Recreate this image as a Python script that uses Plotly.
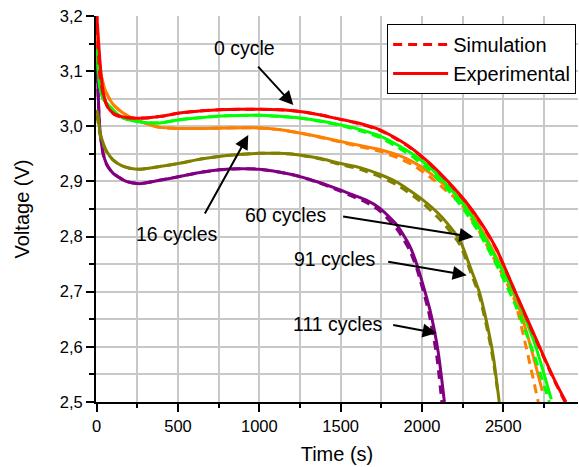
import plotly.graph_objects as go

# Discharge curves: time (s) vs voltage (V) after different numbers of cycles
t_c0_exp = [0, 10, 25, 40, 60, 80, 110, 160, 220, 300, 400, 510, 650, 755, 880, 1000, 1120, 1247,
            1370, 1493, 1620, 1738, 1830, 1923, 2040, 2150, 2273, 2370, 2457, 2588, 2660, 2750, 2820, 2885]
v_c0_exp = [3.205, 3.16, 3.10, 3.062, 3.040, 3.030, 3.022, 3.017, 3.015, 3.015, 3.018, 3.024, 3.028, 3.030,
            3.031, 3.031, 3.030, 3.027, 3.021, 3.013, 3.005, 2.994, 2.980, 2.963, 2.935, 2.903, 2.862,
            2.822, 2.778, 2.690, 2.642, 2.582, 2.537, 2.500]
t_c0_sim = [0, 8, 20, 40, 60, 80, 110, 160, 220, 300, 400, 510, 650, 755, 880, 1000, 1120, 1247,
            1370, 1493, 1620, 1738, 1830, 1923, 2040, 2150, 2273, 2370, 2457, 2588, 2660, 2750, 2820, 2880]
v_c0_sim = [3.21, 3.15, 3.09, 3.058, 3.039, 3.029, 3.021, 3.016, 3.015, 3.015, 3.018, 3.024, 3.028, 3.030,
            3.031, 3.031, 3.030, 3.027, 3.021, 3.013, 3.004, 2.993, 2.979, 2.962, 2.934, 2.902, 2.861,
            2.821, 2.777, 2.689, 2.640, 2.580, 2.535, 2.500]

t_c_green_exp = [0, 10, 20, 40, 80, 120, 162, 220, 264, 387, 510, 650, 800, 1001, 1120, 1247, 1370, 1493,
                 1620, 1738, 1850, 1940, 2050, 2150, 2250, 2353, 2470, 2588, 2700, 2795]
v_c_green_exp = [3.14, 3.10, 3.07, 3.05, 3.036, 3.024, 3.015, 3.010, 3.008, 3.006, 3.012, 3.016, 3.019,
                 3.020, 3.018, 3.015, 3.010, 3.003, 2.994, 2.983, 2.966, 2.950, 2.925, 2.895, 2.860,
                 2.815, 2.752, 2.686, 2.600, 2.505]
t_c_green_sim = [0, 10, 20, 40, 80, 120, 162, 220, 264, 387, 510, 650, 800, 1001, 1120, 1247, 1370, 1493,
                 1620, 1738, 1850, 1940, 2050, 2150, 2250, 2353, 2470, 2580, 2690, 2783]
v_c_green_sim = [3.14, 3.10, 3.07, 3.05, 3.036, 3.024, 3.015, 3.010, 3.008, 3.006, 3.012, 3.016, 3.019,
                 3.020, 3.018, 3.015, 3.009, 3.002, 2.992, 2.980, 2.962, 2.945, 2.919, 2.888, 2.852,
                 2.806, 2.742, 2.672, 2.585, 2.500]

t_c16_exp = [0, 15, 29, 45, 60, 100, 162, 220, 264, 387, 510, 650, 800, 1001, 1120, 1247, 1370, 1493,
             1620, 1738, 1850, 1941, 2050, 2150, 2230, 2353, 2470, 2578, 2650, 2740]
v_c16_exp = [3.17, 3.12, 3.09, 3.072, 3.06, 3.04, 3.024, 3.014, 3.009, 2.998, 2.996, 2.996, 2.997, 2.997,
             2.994, 2.988, 2.981, 2.973, 2.965, 2.958, 2.948, 2.936, 2.915, 2.891, 2.873, 2.819, 2.755,
             2.686, 2.620, 2.520]
t_c16_sim = [0, 10, 29, 45, 60, 100, 162, 220, 264, 387, 510, 650, 800, 1001, 1120, 1247, 1370, 1493,
             1620, 1738, 1850, 1941, 2050, 2150, 2230, 2353, 2470, 2568, 2640, 2715]
v_c16_sim = [3.17, 3.13, 3.09, 3.072, 3.06, 3.04, 3.024, 3.014, 3.009, 2.998, 2.996, 2.996, 2.997, 2.997,
             2.994, 2.988, 2.980, 2.972, 2.963, 2.955, 2.943, 2.930, 2.908, 2.883, 2.863, 2.809, 2.745,
             2.686, 2.600, 2.500]

t_c60_exp = [0, 10, 20, 39, 60, 100, 150, 203, 264, 387, 510, 650, 800, 1001, 1120, 1247, 1370, 1493,
             1620, 1738, 1850, 2003, 2120, 2230, 2300, 2353, 2414, 2440, 2475]
v_c60_exp = [3.03, 3.015, 2.99, 2.970, 2.955, 2.939, 2.929, 2.924, 2.922, 2.927, 2.933, 2.941, 2.947,
             2.951, 2.951, 2.948, 2.942, 2.933, 2.925, 2.913, 2.898, 2.867, 2.836, 2.795, 2.742, 2.699,
             2.622, 2.580, 2.500]
t_c60_sim = [0, 10, 20, 39, 60, 100, 150, 203, 264, 387, 510, 650, 800, 1001, 1120, 1247, 1370, 1493,
             1620, 1738, 1850, 2003, 2120, 2230, 2300, 2353, 2410, 2440, 2470]
v_c60_sim = [3.02, 3.005, 2.985, 2.968, 2.954, 2.939, 2.929, 2.924, 2.922, 2.927, 2.933, 2.941, 2.947,
             2.951, 2.951, 2.948, 2.941, 2.931, 2.922, 2.909, 2.893, 2.861, 2.828, 2.787, 2.735, 2.692,
             2.620, 2.572, 2.510]

t_c111_exp = [0, 8, 18, 39, 60, 100, 182, 264, 387, 510, 650, 755, 880, 1001, 1120, 1247, 1370, 1493,
              1580, 1658, 1738, 1843, 1923, 1968, 2049, 2100, 2138]
v_c111_exp = [3.15, 3.07, 3.00, 2.952, 2.932, 2.915, 2.900, 2.896, 2.902, 2.909, 2.917, 2.921, 2.923,
              2.922, 2.917, 2.909, 2.898, 2.885, 2.875, 2.866, 2.852, 2.822, 2.784, 2.750, 2.667, 2.590,
              2.500]
t_c111_sim = [0, 8, 18, 39, 60, 100, 182, 264, 387, 510, 650, 755, 880, 1001, 1120, 1247, 1370, 1493,
              1580, 1658, 1738, 1843, 1923, 1968, 2040, 2090, 2122]
v_c111_sim = [3.15, 3.06, 3.00, 2.950, 2.931, 2.915, 2.900, 2.896, 2.902, 2.909, 2.917, 2.921, 2.923,
              2.922, 2.917, 2.909, 2.897, 2.883, 2.872, 2.862, 2.847, 2.815, 2.776, 2.742, 2.665, 2.585,
              2.500]

colors = {"c0": "#ff0000", "green": "#00ff00", "c16": "#ff8000", "c60": "#808000", "c111": "#800080"}

series = [
    ("c111", t_c111_exp, v_c111_exp, t_c111_sim, v_c111_sim),
    ("c60", t_c60_exp, v_c60_exp, t_c60_sim, v_c60_sim),
    ("c16", t_c16_exp, v_c16_exp, t_c16_sim, v_c16_sim),
    ("green", t_c_green_exp, v_c_green_exp, t_c_green_sim, v_c_green_sim),
    ("c0", t_c0_exp, v_c0_exp, t_c0_sim, v_c0_sim),
]

FONT = "Liberation Sans, Arial, sans-serif"
fig = go.Figure()

for key, te, ve, ts, vs in series:
    first = key == "c0"
    fig.add_trace(go.Scatter(
        x=te, y=ve, mode="lines", name="Experimental",
        line=dict(color=colors[key], width=3, shape="spline", smoothing=0.6),
        showlegend=first, legendrank=2))
    fig.add_trace(go.Scatter(
        x=ts, y=vs, mode="lines", name="Simulation",
        line=dict(color=colors[key], width=3, dash="9px,6px", shape="spline", smoothing=0.6),
        showlegend=first, legendrank=1))

# Cycle labels with arrows (text position, arrow tail, arrow tip)
labels = [
    ("0 cycle", 906, 3.142, 984, 3.111, 1209, 3.0386),
    ("16 cycles", 494, 2.805, 660, 2.839, 932, 2.984),
    ("60 cycles", 1164, 2.840, 1506, 2.837, 2316, 2.799),
    ("91 cycles", 1463, 2.759, 1783, 2.755, 2275, 2.730),
    ("111 cycles", 1482, 2.642, 1814, 2.640, 2090, 2.625),
]
for txt, tx, ty, ax, ay, hx, hy in labels:
    fig.add_annotation(x=tx, y=ty, xref="x", yref="y", text=txt, showarrow=False,
                       font=dict(family=FONT, size=19.5, color="black"))
    fig.add_annotation(x=hx, y=hy, ax=ax, ay=ay, xref="x", yref="y", axref="x", ayref="y",
                       text="", showarrow=True, arrowhead=2, arrowsize=1.4, arrowwidth=2,
                       arrowcolor="black", standoff=0, startstandoff=0)

axis_common = dict(
    showline=True, linecolor="black", linewidth=2, mirror=False,
    ticks="outside", ticklen=8, tickwidth=1.5, tickcolor="black",
    showgrid=True, gridcolor="#c8c8c8", gridwidth=2, zeroline=False,
    tickfont=dict(family=FONT, size=16.5, color="black"),
)

fig.update_xaxes(
    range=[-4.3, 2959.3], dtick=500, tick0=0,
    minor=dict(dtick=250, ticks="outside", ticklen=4, tickwidth=1.5, tickcolor="black",
               showgrid=True, gridcolor="#c8c8c8", gridwidth=2),
    title=dict(text="Time (s)", font=dict(family=FONT, size=20, color="black"), standoff=13),
    **axis_common)
fig.update_yaxes(
    range=[2.5, 3.2], dtick=0.1, tick0=2.5, tickformat=".1f",
    minor=dict(dtick=0.05, ticks="outside", ticklen=5, tickwidth=1.5, tickcolor="black",
               showgrid=True, gridcolor="#c8c8c8", gridwidth=2),
    title=dict(text="Voltage (V)", font=dict(family=FONT, size=20, color="black"), standoff=25),
    **axis_common)

fig.update_layout(
    width=579, height=467,
    margin=dict(l=96, r=1, t=16, b=65),
    separators=", ",
    plot_bgcolor="white", paper_bgcolor="white",
    font=dict(family=FONT, color="black"),
    legend=dict(x=0.604, y=0.979, xanchor="left", yanchor="top",
                bgcolor="white", bordercolor="black", borderwidth=1,
                font=dict(family=FONT, size=20, color="black"),
                itemwidth=55, tracegroupgap=0),
    showlegend=True,
)

fig.write_html("out.html")
